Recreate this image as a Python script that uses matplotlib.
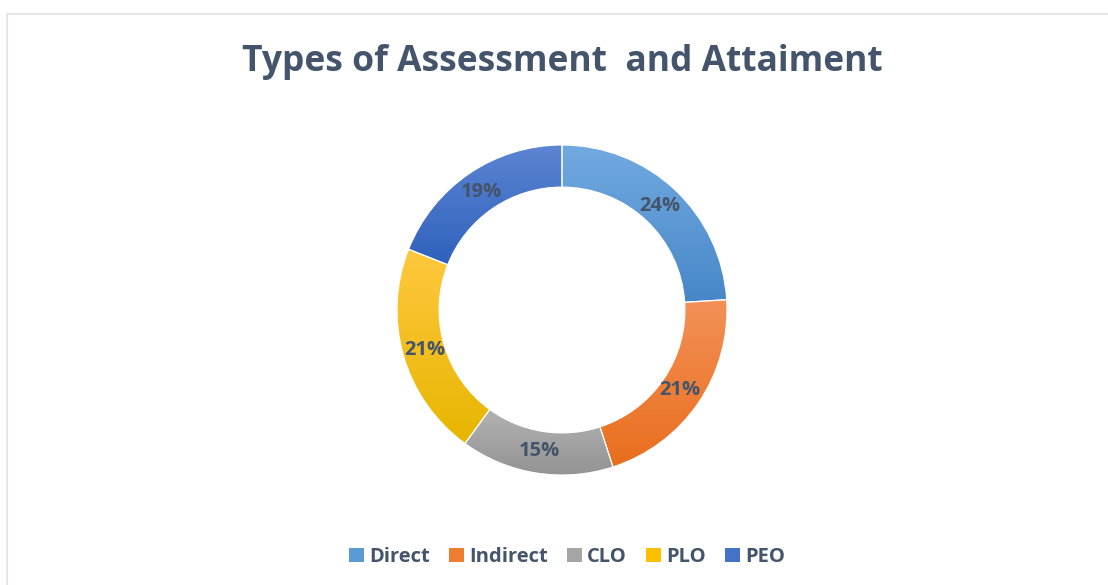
import matplotlib
matplotlib.use("Agg")
import matplotlib.pyplot as plt
import numpy as np
from matplotlib.patches import Patch, Rectangle
from matplotlib.colors import LinearSegmentedColormap

plt.rcParams['font.family'] = ['Open Sans', 'DejaVu Sans']

labels = ['Direct', 'Indirect', 'CLO', 'PLO', 'PEO']
values = [24, 21, 15, 21, 19]
base_colors = ['#5B9BD5', '#ED7D31', '#A5A5A5', '#FFC000', '#4472C4']
# light (top) / dark (bottom) of each slice gradient
grad_top = ['#72AAE0', '#F39157', '#B2B2B2', '#FFC83F', '#5C85D2']
grad_bot = ['#4787C8', '#E96E1D', '#939393', '#E6B600', '#2F61BC']

text_color = '#44546A'

fig = plt.figure(figsize=(11.08, 5.85), dpi=100)
fig.patch.set_facecolor('white')

# light chart-area border (top and left edges visible)
fig.add_artist(Rectangle((7 / 1108, -0.1), 1.2, (585 - 14) / 585 + 0.1,
                         transform=fig.transFigure, fill=False,
                         edgecolor='#DDE1E6', linewidth=1.2))

cx, cy, r = 562, 275, 165
ax = fig.add_axes([(cx - r) / 1108, (cy - r) / 585, 2 * r / 1108, 2 * r / 585])

wedges, _ = ax.pie(values, startangle=90, counterclock=False, radius=1,
                   wedgeprops=dict(width=0.255, edgecolor='white', linewidth=0.8))

for w, c0, c1 in zip(wedges, grad_top, grad_bot):
    w.set_facecolor('none')
    bb = w.get_path().get_extents(w.get_patch_transform())
    cmap = LinearSegmentedColormap.from_list('g', [c1, c0])
    grad = np.linspace(0, 1, 256).reshape(-1, 1)
    im = ax.imshow(grad, cmap=cmap, aspect='auto', origin='lower',
                   extent=[bb.x0, bb.x1, bb.y0, bb.y1], zorder=1)
    im.set_clip_path(w)
    w.set_zorder(2)

# percentage labels at mid-ring
total = sum(values)
ang = 90.0
for v in values:
    mid = ang - v / total * 180
    ang -= v / total * 360
    rr = 0.865
    ax.text(rr * np.cos(np.radians(mid)), rr * np.sin(np.radians(mid)),
            f"{v / total * 100:.0f}%", ha='center', va='center',
            fontsize=14.5, fontweight='bold', color=text_color, zorder=3)

ax.set_xlim(-1, 1)
ax.set_ylim(-1, 1)
ax.set_aspect('equal')
ax.axis('off')

fig.text(562 / 1108, 1 - 62 / 585, "Types of Assessment  and Attaiment",
         ha='center', va='center', fontsize=25.5, fontweight='bold', color=text_color)

handles = [Patch(facecolor=c, edgecolor='none') for c in base_colors]
leg = fig.legend(handles, labels, loc='center', bbox_to_anchor=(567 / 1108, 1 - 557 / 585),
                 ncol=5, frameon=False, fontsize=14.5, handlelength=0.75, handleheight=0.75,
                 handletextpad=0.25, columnspacing=0.95)
for t in leg.get_texts():
    t.set_color(text_color)
    t.set_fontweight('bold')

fig.savefig('out.png', dpi=100)
